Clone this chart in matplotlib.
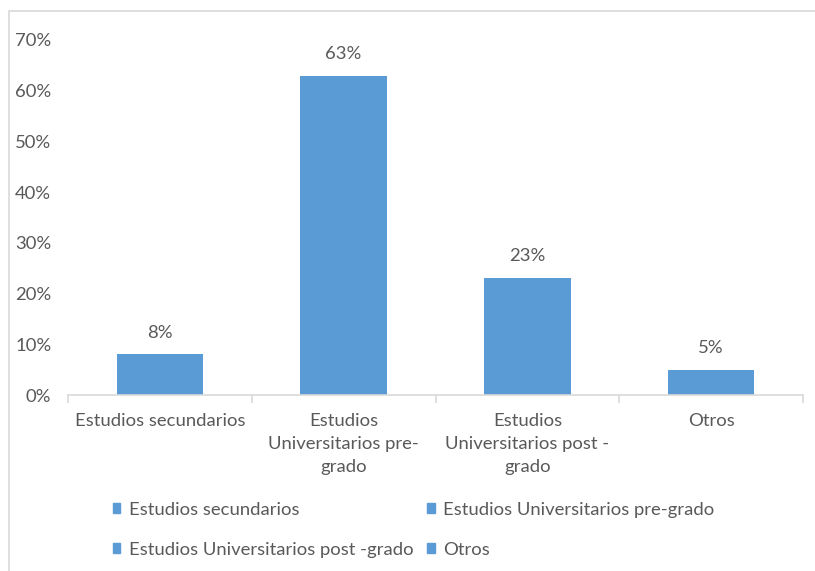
import matplotlib
matplotlib.use("Agg")
import matplotlib.pyplot as plt
from matplotlib.patches import Rectangle, Patch
from matplotlib.ticker import PercentFormatter

categories = ["Estudios secundarios", "Estudios Universitarios pre-grado",
              "Estudios Universitarios post -grado", "Otros"]
tick_labels = ["Estudios secundarios", "Estudios\nUniversitarios pre-\ngrado",
               "Estudios\nUniversitarios post -\ngrado", "Otros"]
values = [0.08, 0.63, 0.23, 0.05]

BAR = "#5B9BD5"
TEXT = "#595959"
GRID = "#D9D9D9"

plt.rcParams["font.family"] = ["Lato", "DejaVu Sans"]
plt.rcParams["font.size"] = 13.3

fig = plt.figure(figsize=(8.15, 5.71), dpi=100)
ax = fig.add_axes([68 / 815, 1 - 395 / 571, 735 / 815, 355 / 571])

# chart border (cut off at right and bottom)
fig.patches.append(Rectangle((9 / 815, -0.1), 1.2, 1.1 - 11 / 571, transform=fig.transFigure,
                             fill=False, edgecolor=GRID, linewidth=1.2))

x = range(len(values))
bars = ax.bar(x, values, width=0.47, color=BAR)
for b, v in zip(bars, values):
    ax.annotate(f"{v:.0%}", (b.get_x() + b.get_width() / 2, v), xytext=(0, 10),
                textcoords="offset points", ha="center", va="bottom", color=TEXT)

ax.set_xlim(-0.5, len(values) - 0.5)
ax.set_ylim(0, 0.7)
ax.set_yticks([i / 10 for i in range(8)])
ax.yaxis.set_major_formatter(PercentFormatter(1.0, decimals=0))
ax.set_xticks(list(x))
ax.set_xticklabels(tick_labels, color=TEXT, linespacing=1.55)
ax.set_xticks([i - 0.5 for i in range(len(values) + 1)], minor=True)
ax.tick_params(axis="x", which="major", length=0, pad=13)
ax.tick_params(axis="x", which="minor", length=6, color=GRID, width=1.2)
ax.tick_params(axis="y", length=0, pad=12, colors=TEXT)
for s in ["top", "right", "left"]:
    ax.spines[s].set_visible(False)
ax.spines["bottom"].set_color(GRID)
ax.spines["bottom"].set_linewidth(1.2)

# legend in row-major order
handles = [Patch(color=BAR, label=c) for c in categories]
order = [0, 2, 1, 3]
fig.legend([handles[i] for i in order], [categories[i] for i in order],
           loc="upper left", bbox_to_anchor=(96 / 815, 1 - 485 / 571), ncol=2,
           frameon=False, handlelength=0.42, handleheight=0.42, handletextpad=0.45,
           columnspacing=0.75, labelspacing=1.3, labelcolor=TEXT)

fig.savefig("out.png", dpi=100)
